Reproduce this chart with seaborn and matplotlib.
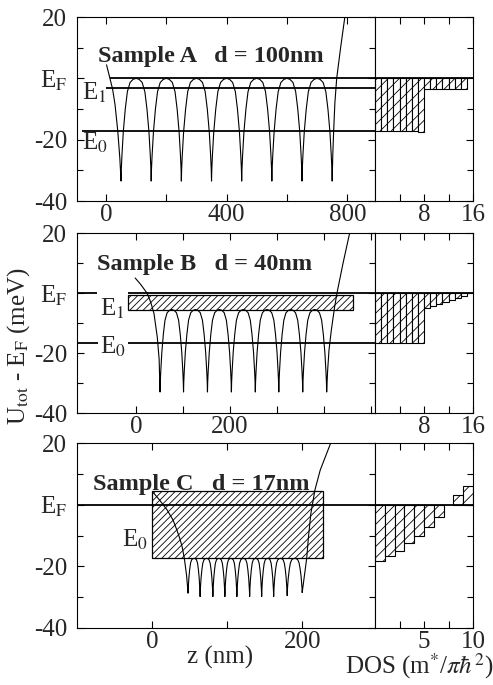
import numpy as np
import pandas as pd
import matplotlib
matplotlib.use("Agg")
import matplotlib.pyplot as plt
import seaborn as sns

# ---------------------------------------------------------------- data
EF = 0.0

# shape of one potential arch:
# fraction of half-period measured from the cusp, fraction of height cusp->arch top
arc_u = [0.0, 0.02, 0.06, 0.15, 0.28, 0.42, 0.60, 0.80, 1.0]
arc_h = [0.0, 0.12, 0.25, 0.48, 0.70, 0.87, 0.96, 0.99, 1.0]

# ---- Sample A
wells_A = [50, 150, 250, 350, 450, 550, 650, 750]
cusp_A = [-33.5, -33.5, -33.5, -33.5, -33.5, -33.5, -33.5, -33.5]
arctop_A = 0.0
left_A_z = [2, 8, 13, 22, 30, 39, 46, 50]
left_A_E = [4.4, 2.0, 0.0, -3.5, -8.5, -17.0, -26.0, -33.5]
right_A_z = [750, 752, 755, 759, 765, 778, 792]
right_A_E = [-33.5, -25.0, -17.0, -8.0, 0.0, 10.0, 20.0]
lev_A_E = [0.0, -3.3, -17.2]
lev_A_z0 = [13, 0, -80]
lev_A_z1 = [892, 892, 892]
box_A = []  # no hatched box
dos_A_x = [0, 1, 2, 3, 4, 5, 6, 7, 8, 9, 10, 11, 12, 13, 14]
dos_A_bot = [-17.2, -17.2, -17.2, -17.2, -17.2, -17.2, -17.2, -17.4,
             -3.4, -3.4, -3.4, -3.4, -3.4, -3.4, -3.4]
dos_A_top = [0, 0, 0, 0, 0, 0, 0, 0, 0, 0, 0, 0, 0, 0, 0]

# ---- Sample B
wells_B = [51, 101, 152, 203, 254, 304, 355, 406]
cusp_B = [-33.0, -33.0, -33.0, -33.0, -33.0, -33.0, -33.0, -33.0]
arctop_B = -5.5
left_B_z = [-2, 10, 23, 31, 38, 45, 49, 51]
left_B_E = [5.0, 2.8, 0.0, -3.0, -6.8, -14.6, -22.0, -33.0]
right_B_z = [406, 408, 411, 416, 423, 428, 441, 455]
right_B_E = [-33.0, -26.0, -19.0, -12.3, -4.6, 0.0, 10.0, 20.0]
lev_B_E = [0.0, 0.0, -16.8, -16.8]
lev_B_z0 = [-126, -17, -126, -17]
lev_B_z1 = [-84, 509, -81, 509]
box_B = [(-17, 462, -5.5, -0.8)]
dos_B_x = [0, 1, 2, 3, 4, 5, 6, 7, 8, 9, 10, 11, 12, 13, 14]
dos_B_bot = [-16.8, -16.8, -16.8, -16.8, -16.8, -16.8, -16.8, -16.8,
             -5.1, -4.3, -3.6, -2.9, -2.2, -1.6, -1.0]
dos_B_top = [0, 0, 0, 0, 0, 0, 0, 0, 0, 0, 0, 0, 0, 0, 0]

# ---- Sample C
wells_C = [48, 64, 81, 97, 113, 130, 146, 162, 180, 200]
cusp_C = [-28.7, -29.8, -29.8, -29.8, -29.8, -29.8, -29.8, -29.8, -29.5, -28.5]
arctop_C = -17.4
left_C_z = [2, 10, 20, 28, 33, 37, 40, 43, 46, 48]
left_C_E = [3.8, 1.5, -1.7, -5.0, -8.2, -11.0, -13.6, -17.4, -23.0, -28.7]
right_C_z = [200, 203, 206, 208.4, 211.6, 217, 224, 238]
right_C_E = [-28.5, -23.0, -17.4, -10.4, -2.8, 4.8, 11.2, 20.0]
lev_C_E = [0.0]
lev_C_z0 = [-100]
lev_C_z1 = [297]
box_C = [(0, 228, -17.4, 4.4)]
dos_C_x = [0, 1, 2, 3, 4, 5, 6, 8, 9]
dos_C_bot = [-18.2, -16.7, -15.0, -12.4, -10.2, -7.3, -4.0, 0.0, 0.0]
dos_C_top = [0, 0, 0, 0, 0, 0, 0, 3.1, 6.2]

# axes / tick labels
zlim_A, zlim_B, zlim_C = (-96, 892), (-126, 509), (-100, 297)
zticks_A, zlabels_A = [0, 200, 400, 600, 800], ["0", "", "400", "", "800"]
zticks_B, zlabels_B = [0, 100, 200, 300, 400, 500], ["0", "", "200", "", "", ""]
zticks_C, zlabels_C = [0, 100, 200], ["0", "", "200"]
dlim_A, dlim_B, dlim_C = (0, 16), (0, 16), (0, 10)
dticks_A, dlabels_A = [4, 8, 12, 16], ["", "8", "", "16"]
dticks_B, dlabels_B = [4, 8, 12, 16], ["", "8", "", "16"]
dticks_C, dlabels_C = [2.5, 5, 7.5, 10], ["", "5", "", "10"]
yticks = [-40, -20, 0, 20]
ylabels = ["-40", "-20", r"E$_{\rm F}$", "20"]
yminor = [-30, -10, 10]

titles = ["Sample A   d = 100nm", "Sample B   d = 40nm", "Sample C   d = 17nm"]

# ---------------------------------------------------------------- style
sns.set_style("ticks")
plt.rcParams["font.family"] = ["Liberation Serif", "DejaVu Serif"]
plt.rcParams["mathtext.fontset"] = "stix"
plt.rcParams["hatch.linewidth"] = 0.6
plt.rcParams["axes.edgecolor"] = "black"
plt.rcParams["axes.linewidth"] = 0.8

FS = 18

fig = plt.figure(figsize=(4.93, 6.85), dpi=100)
L, WZ, WD = 77 / 493, 298 / 493, 98 / 493
rows = [((685 - 201) / 685, 184 / 685),
        ((685 - 413) / 685, 180 / 685),
        ((685 - 628) / 685, 185 / 685)]


def build_potential(lz, lE, wells, cusps, top, rz, rE):
    z = list(lz[:-1])
    E = list(lE[:-1])
    for i in range(len(wells) - 1):
        half = (wells[i + 1] - wells[i]) / 2
        for u, h in zip(arc_u, arc_h):
            z.append(wells[i] + u * half)
            E.append(cusps[i] + h * (top - cusps[i]))
        for u, h in zip(arc_u[::-1][1:], arc_h[::-1][1:]):
            z.append(wells[i + 1] - u * half)
            E.append(cusps[i + 1] + h * (top - cusps[i + 1]))
    z += list(rz[1:])
    E += list(rE[1:])
    return pd.DataFrame({"z": z, "E": E})


panels = [
    dict(lz=left_A_z, lE=left_A_E, w=wells_A, c=cusp_A, t=arctop_A, rz=right_A_z, rE=right_A_E,
         levE=lev_A_E, lev0=lev_A_z0, lev1=lev_A_z1, box=box_A,
         dx=dos_A_x, db=dos_A_bot, dt=dos_A_top,
         zlim=zlim_A, zt=zticks_A, zl=zlabels_A, dlim=dlim_A, dtk=dticks_A, dl=dlabels_A,
         title_xy=(0.07, 0.755),
         elabels=[(-80, -7.0, r"E$_{\rm 1}$"), (-80, -23.3, r"E$_{\rm 0}$")]),
    dict(lz=left_B_z, lE=left_B_E, w=wells_B, c=cusp_B, t=arctop_B, rz=right_B_z, rE=right_B_E,
         levE=lev_B_E, lev0=lev_B_z0, lev1=lev_B_z1, box=box_B,
         dx=dos_B_x, db=dos_B_bot, dt=dos_B_top,
         zlim=zlim_B, zt=zticks_B, zl=zlabels_B, dlim=dlim_B, dtk=dticks_B, dl=dlabels_B,
         title_xy=(0.067, 0.794),
         elabels=[(-76, -7.5, r"E$_{\rm 1}$"), (-76, -20.3, r"E$_{\rm 0}$")]),
    dict(lz=left_C_z, lE=left_C_E, w=wells_C, c=cusp_C, t=arctop_C, rz=right_C_z, rE=right_C_E,
         levE=lev_C_E, lev0=lev_C_z0, lev1=lev_C_z1, box=box_C,
         dx=dos_C_x, db=dos_C_bot, dt=dos_C_top,
         zlim=zlim_C, zt=zticks_C, zl=zlabels_C, dlim=dlim_C, dtk=dticks_C, dl=dlabels_C,
         title_xy=(0.054, 0.748),
         elabels=[(-40, -13.7, r"E$_{\rm 0}$")]),
]

for p, (bot, h), title in zip(panels, rows, titles):
    axz = fig.add_axes([L, bot, WZ, h])
    axd = fig.add_axes([L + WZ, bot, WD, h])

    # hatched boxes in real space
    for (z0, z1, e0, e1) in p["box"]:
        axz.bar(z0, e1 - e0, width=z1 - z0, bottom=e0, align="edge",
                facecolor="white", edgecolor="black", hatch="/////", lw=0.9, zorder=2)
    # subband / Fermi levels
    for e, z0, z1 in zip(p["levE"], p["lev0"], p["lev1"]):
        axz.plot([z0, z1], [e, e], color="black", lw=1.3, zorder=3, solid_capstyle="butt")
    # potential
    df = build_potential(p["lz"], p["lE"], p["w"], p["c"], p["t"], p["rz"], p["rE"])
    sns.lineplot(data=df, x="z", y="E", sort=False, estimator=None, color="black",
                 lw=0.8, ax=axz, legend=False, zorder=4)
    for (zx, ey, s) in p["elabels"]:
        axz.text(zx, ey, s, fontsize=FS, ha="left", va="baseline", zorder=5)
    axz.text(p["title_xy"][0], p["title_xy"][1], title, transform=axz.transAxes,
             fontsize=17.5, fontweight="bold", va="baseline", ha="left", zorder=6)

    axz.set_xlim(*p["zlim"])
    axz.set_ylim(-40, 20)
    axz.set_xticks(p["zt"])
    axz.set_xticklabels(p["zl"])
    axz.set_yticks(yticks)
    axz.set_yticklabels(ylabels)
    axz.set_yticks(yminor, minor=True)
    axz.set_xlabel("")
    axz.set_ylabel("")
    axz.tick_params(which="both", direction="in", top=True, right=True,
                    labelsize=FS, width=0.8, color="black")
    axz.tick_params(which="major", length=5)
    axz.tick_params(which="minor", length=4)
    axz.tick_params(axis="x", pad=2)
    axz.tick_params(axis="y", pad=7)

    # DOS
    heights = [t - b for t, b in zip(p["dt"], p["db"])]
    axd.bar(p["dx"], heights, width=1, bottom=p["db"], align="edge",
            facecolor="white", edgecolor="black", hatch="///", lw=0.8, zorder=2)
    axd.axhline(EF, color="black", lw=1.3, zorder=3)
    axd.set_xlim(*p["dlim"])
    axd.set_ylim(-40, 20)
    axd.set_xticks(p["dtk"])
    axd.set_xticklabels(p["dl"])
    axd.set_yticks(yticks)
    axd.set_yticks(yminor, minor=True)
    axd.set_yticklabels([])
    axd.tick_params(which="both", direction="in", top=True, right=True, left=False,
                    labelsize=FS, width=0.8, color="black")
    axd.tick_params(which="major", length=5)
    axd.tick_params(which="minor", length=4)
    axd.tick_params(axis="x", pad=2)

fig.text(19 / 493, 1 - 346 / 685, r"U$_{\rm tot}$ - E$_{\rm F}$ (meV)", rotation=90,
         ha="center", va="center", fontsize=FS)
fig.text(220 / 493, 1 - 657 / 685, "z (nm)", ha="center", va="center", fontsize=FS)
fig.text(345 / 493, 1 - 666 / 685, r"DOS (m$^{*}$/$\pi\hbar^{2}$)", ha="left",
         va="center", fontsize=FS)

fig.savefig("out.png", dpi=100)
